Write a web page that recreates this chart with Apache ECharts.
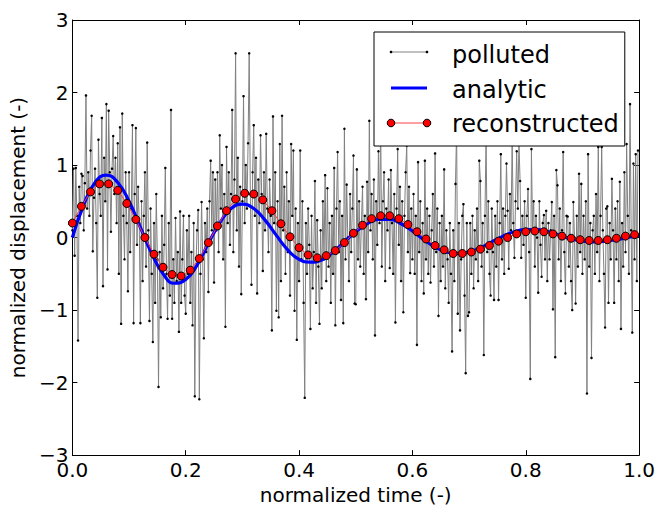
<!DOCTYPE html>
<html>
<head>
<meta charset="utf-8">
<script src="https://cdn.jsdelivr.net/npm/echarts@6/dist/echarts.min.js"></script>
<style>
html,body{margin:0;padding:0;background:#fff;}
#chart{width:658px;height:510px;}
</style>
</head>
<body>
<div id="chart"></div>
<script>
// ---- data ----
const sampleCount = 500;          // polluted samples over normalized time 0..1
const polluted = [
 0.1,0.95,-0.25,0.96,0.3,-1.42,0.7,0.2,0.88,0.85,0.1,0.75,1.96,0.4,0.9,0.3,1.2,1.68,-0.19,0.55,0.95,0.2,-0.83,1.35,0.6,
 0.3,1.65,-0.67,1.1,0.5,1.84,-0.44,1.75,0.9,0.08,0.95,1.4,0.6,1.1,0.2,1.3,-0.5,1.52,-1.19,1.71,0.3,-0.3,0.9,0.2,-0.74,
 0.9,-0.2,0.4,1.55,-1.18,0.6,1.51,-0.1,0.7,0.2,-1.18,0.5,-0.6,0.3,0.9,-0.4,1.31,0.1,-1.15,0.4,-0.5,-1.44,0.2,-0.9,0.6,
 -0.3,-2.06,-0.2,-1.1,0.3,-0.7,-0.1,0.96,-0.5,-1.12,0.2,-0.8,1.76,-1.12,-0.3,-0.9,0.27,-0.6,-0.2,-1.3,0.36,-0.9,-0.3,0.3,-0.8,
 -1.05,0.1,-0.5,0.3,-0.9,-0.2,-1.21,0.2,-2.19,-0.4,0.1,0.38,-2.23,-0.5,0.49,-0.3,-1.39,0.2,-0.2,0.4,-0.75,0.5,1.06,0.1,0.9,
 -0.62,0.8,0.1,0.9,-0.2,1.41,0.4,1.0,-0.3,0.6,-1.23,1.25,0.2,0.9,-0.1,0.6,1.76,-0.2,0.8,2.54,0.1,1.1,-0.4,0.7,-0.78,
 0.5,1.95,0.2,1.0,0.4,1.3,2.54,0.6,-0.65,0.9,1.55,0.3,1.1,-0.77,0.8,0.2,1.41,0.6,-0.46,0.9,0.1,1.43,0.4,-0.2,0.8,
 0.3,-1.28,1.67,0.2,0.9,-1.01,0.5,-1.1,1.29,-0.6,1.68,0.1,0.7,-0.5,0.9,-0.2,0.5,-0.8,1.29,0.3,1.2,-1.01,0.4,-1.41,0.2,
 -0.6,1.2,-0.3,0.5,-0.9,-2.21,0.2,-0.5,0.4,-0.1,-1.26,0.3,-0.7,-0.2,0.78,-0.9,0.24,-0.4,-1.19,0.1,-0.7,0.5,-0.3,0.86,-0.6,
 0.68,-0.4,0.2,-0.9,0.3,-0.5,0.96,-1.21,0.4,1.18,-0.2,0.5,-0.86,0.3,-1.18,1.5,-0.3,0.73,0.0,-0.6,0.6,-0.2,0.4,1.13,-0.91,
 -0.92,0.94,-0.3,0.5,-0.4,0.2,0.7,-0.5,0.3,-0.85,0.77,-0.2,1.61,0.1,0.6,-0.3,0.8,-1.35,0.5,-0.1,1.19,0.2,1.61,-0.4,0.5,
 0.9,-0.6,0.4,0.1,0.8,-0.42,0.93,0.2,-0.5,0.6,-1.17,0.4,1.22,-0.1,0.7,-0.6,0.5,-1.03,0.3,0.9,1.27,-0.2,0.7,-0.49,0.4,
 -0.3,0.6,-0.5,0.3,-1.48,1.04,-0.2,0.5,-0.6,0.2,-0.77,1.06,-0.3,0.4,-0.5,0.3,-0.62,0.1,0.6,-0.4,1.16,-0.2,0.4,-1.08,0.2,
 -0.6,0.3,-0.4,0.94,-0.7,0.1,-0.3,-0.9,0.2,-0.5,-1.57,0.1,-0.6,0.74,1.5,-1.05,0.2,-1.28,-0.3,0.3,0.46,-0.8,-1.87,0.2,-1.08,
 -1.03,0.2,-0.5,0.3,-0.7,0.1,-0.3,0.4,-0.6,1.06,0.78,-0.4,0.2,-1.62,0.3,1.4,-0.2,0.5,-0.5,-0.8,0.4,-0.2,-0.86,0.3,-0.4,
 0.5,-0.86,0.2,1.15,-0.3,0.4,-0.5,0.3,1.02,0.37,-0.43,0.6,0.1,1.35,0.2,-0.28,0.5,1.19,0.4,1.3,0.78,-0.28,0.3,-0.1,0.5,
 -0.83,0.3,0.67,-0.2,-1.95,1.22,0.1,0.5,-0.4,0.3,0.0,-0.76,0.5,-0.1,-0.54,0.2,0.31,-0.3,0.37,-0.6,0.2,-0.3,0.1,0.49,-0.99,
 0.3,-1.65,0.93,0.72,-0.3,0.4,-0.6,0.1,1.18,-0.2,-0.77,0.3,0.29,-0.4,0.2,-0.6,-1.0,0.49,0.0,-0.91,0.3,-0.4,0.88,-0.2,0.74,
 -0.5,0.3,-0.3,0.5,-2.15,1.15,-0.4,0.2,-1.66,0.1,0.3,-0.5,0.6,-0.2,1.25,-0.6,0.3,1.25,0.1,-0.5,-1.24,0.4,0.43,-0.9,0.2,
 -0.3,0.81,0.1,-0.9,0.4,-0.3,0.5,-0.6,0.77,-1.26,0.2,-0.4,0.9,-0.2,1.29,0.3,-0.5,1.84,0.1,-1.31,1.02,-0.3,1.15,-0.6,1.2
];
const analyticStep = 0.02;        // analytic curve read every 0.02
const analytic = [
 0.00,0.45,0.76,0.86,0.76,0.50,0.14,-0.22,-0.50,-0.63,
 -0.58,-0.38,-0.08,0.20,0.40,0.46,0.40,0.24,0.03,-0.17,
 -0.30,-0.34,-0.31,-0.20,-0.06,0.08,0.19,0.25,0.25,0.19,
 0.09,-0.03,-0.13,-0.20,-0.22,-0.20,-0.14,-0.06,0.02,0.08,
 0.11,0.11,0.08,0.03,-0.02,-0.05,-0.06,-0.05,-0.03,0.00,0.03
];
const reconStep = 0.016;          // every 8th sample
const reconstructed = [
 0.20,0.43,0.63,0.74,0.74,0.65,0.47,0.25,0.00,-0.23,
 -0.41,-0.51,-0.53,-0.45,-0.29,-0.07,0.16,0.37,0.53,0.61,
 0.60,0.52,0.37,0.19,0.01,-0.14,-0.24,-0.28,-0.25,-0.18,
 -0.07,0.06,0.17,0.26,0.30,0.30,0.26,0.18,0.08,-0.02,
 -0.11,-0.17,-0.22,-0.22,-0.20,-0.16,-0.11,-0.05,0.00,0.05,
 0.08,0.09,0.08,0.05,0.02,-0.01,-0.03,-0.04,-0.04,-0.03,
 -0.01,0.02,0.04
];
const seriesNames = ['polluted','analytic','reconstructed'];
const xTicks = [0.0,0.2,0.4,0.6,0.8,1.0];
const yTicks = [-3,-2,-1,0,1,2,3];

// ---- build chart ----
const FONT = 'DejaVu Sans';
const pollutedData = polluted.map((v,i)=>[i/sampleCount, v]);
const analyticData = analytic.map((v,i)=>[i*analyticStep, v]);
const reconData = reconstructed.map((v,i)=>[i*reconStep, v]);

const chart = echarts.init(document.getElementById('chart'), null, {renderer:'svg'});
const baseX = {
  type:'value', min:xTicks[0], max:xTicks[xTicks.length-1], interval:0.2,
  splitLine:{show:false},
  axisLine:{show:true, onZero:false, lineStyle:{color:'#000', width:1}},
  axisTick:{show:true, inside:true, length:5, lineStyle:{color:'#000'}}
};
const baseY = {
  type:'value', min:yTicks[0], max:yTicks[yTicks.length-1], interval:1,
  splitLine:{show:false},
  axisLine:{show:true, onZero:false, lineStyle:{color:'#000', width:1}},
  axisTick:{show:true, inside:true, length:5, lineStyle:{color:'#000'}}
};

// legend key glyphs (matplotlib style: line with markers at both ends)
const LX0 = 391, LX1 = 427, ROWS = [52, 88, 123];
const legendKeys = [
  {type:'line', shape:{x1:LX0,y1:ROWS[0],x2:LX1,y2:ROWS[0]}, style:{stroke:'#808080', lineWidth:1}},
  {type:'circle', shape:{cx:LX0,cy:ROWS[0],r:1.3}, style:{fill:'#000'}},
  {type:'circle', shape:{cx:LX1,cy:ROWS[0],r:1.3}, style:{fill:'#000'}},
  {type:'line', shape:{x1:LX0,y1:ROWS[1],x2:LX1,y2:ROWS[1]}, style:{stroke:'#0000ff', lineWidth:3}},
  {type:'line', shape:{x1:LX0,y1:ROWS[2],x2:LX1,y2:ROWS[2]}, style:{stroke:'#ff4040', lineWidth:1}},
  {type:'circle', shape:{cx:LX0,cy:ROWS[2],r:3.8}, style:{fill:'#ff0000', stroke:'#000', lineWidth:1}},
  {type:'circle', shape:{cx:LX1,cy:ROWS[2],r:3.8}, style:{fill:'#ff0000', stroke:'#000', lineWidth:1}}
].map(e=>Object.assign(e,{z:100, silent:true}));

const option = {
  animation:false,
  backgroundColor:'#fff',
  grid:{left:72, right:18, top:20, bottom:51, containLabel:false},
  xAxis:[
    Object.assign({}, baseX, {
      position:'bottom',
      name:'normalized time (-)', nameLocation:'middle', nameGap:27,
      nameTextStyle:{fontFamily:FONT, fontSize:20, color:'#000'},
      axisLabel:{show:true, margin:5, fontFamily:FONT, fontSize:20, color:'#000',
        formatter:v=>v.toFixed(1)}
    }),
    Object.assign({}, baseX, {position:'top', axisLabel:{show:false}})
  ],
  yAxis:[
    Object.assign({}, baseY, {
      position:'left',
      name:'normalized displacement (-)', nameLocation:'middle', nameGap:40,
      nameTextStyle:{fontFamily:FONT, fontSize:20, color:'#000'},
      axisLabel:{show:true, margin:4, fontFamily:FONT, fontSize:20, color:'#000',
        formatter:v=> v<0 ? '\u2212'+(-v) : String(v)}
    }),
    Object.assign({}, baseY, {position:'right', axisLabel:{show:false}})
  ],
  legend:{
    orient:'vertical', left:374, top:32,
    padding:[11,6,10,16], itemGap:10.5, itemWidth:36, itemHeight:10,
    icon:'rect', itemStyle:{opacity:0}, lineStyle:{opacity:0},
    backgroundColor:'#fff', borderColor:'#000', borderWidth:1, borderRadius:0,
    textStyle:{fontFamily:FONT, fontSize:24, color:'#000', padding:[0,0,0,20]},
    data:seriesNames
  },
  graphic:legendKeys,
  series:[
    {
      name:seriesNames[0], type:'line', data:pollutedData,
      xAxisIndex:0, yAxisIndex:0,
      showSymbol:true, showAllSymbol:true, symbol:'circle', symbolSize:2.5,
      itemStyle:{color:'#000'},
      lineStyle:{color:'#808080', width:1},
      emphasis:{disabled:true}, z:2
    },
    {
      name:seriesNames[1], type:'line', data:analyticData,
      xAxisIndex:0, yAxisIndex:0,
      showSymbol:false, symbol:'none', smooth:0.5,
      itemStyle:{color:'#0000ff'},
      lineStyle:{color:'#0000ff', width:3.2},
      emphasis:{disabled:true}, z:3
    },
    {
      name:seriesNames[2], type:'line', data:reconData,
      xAxisIndex:0, yAxisIndex:0,
      symbol:'circle', symbolSize:8, showAllSymbol:true,
      itemStyle:{color:'#ff0000', borderColor:'#000', borderWidth:1},
      lineStyle:{color:'#ff4040', width:1},
      emphasis:{disabled:true}, z:4
    }
  ]
};
chart.setOption(option);
</script>
</body>
</html>
